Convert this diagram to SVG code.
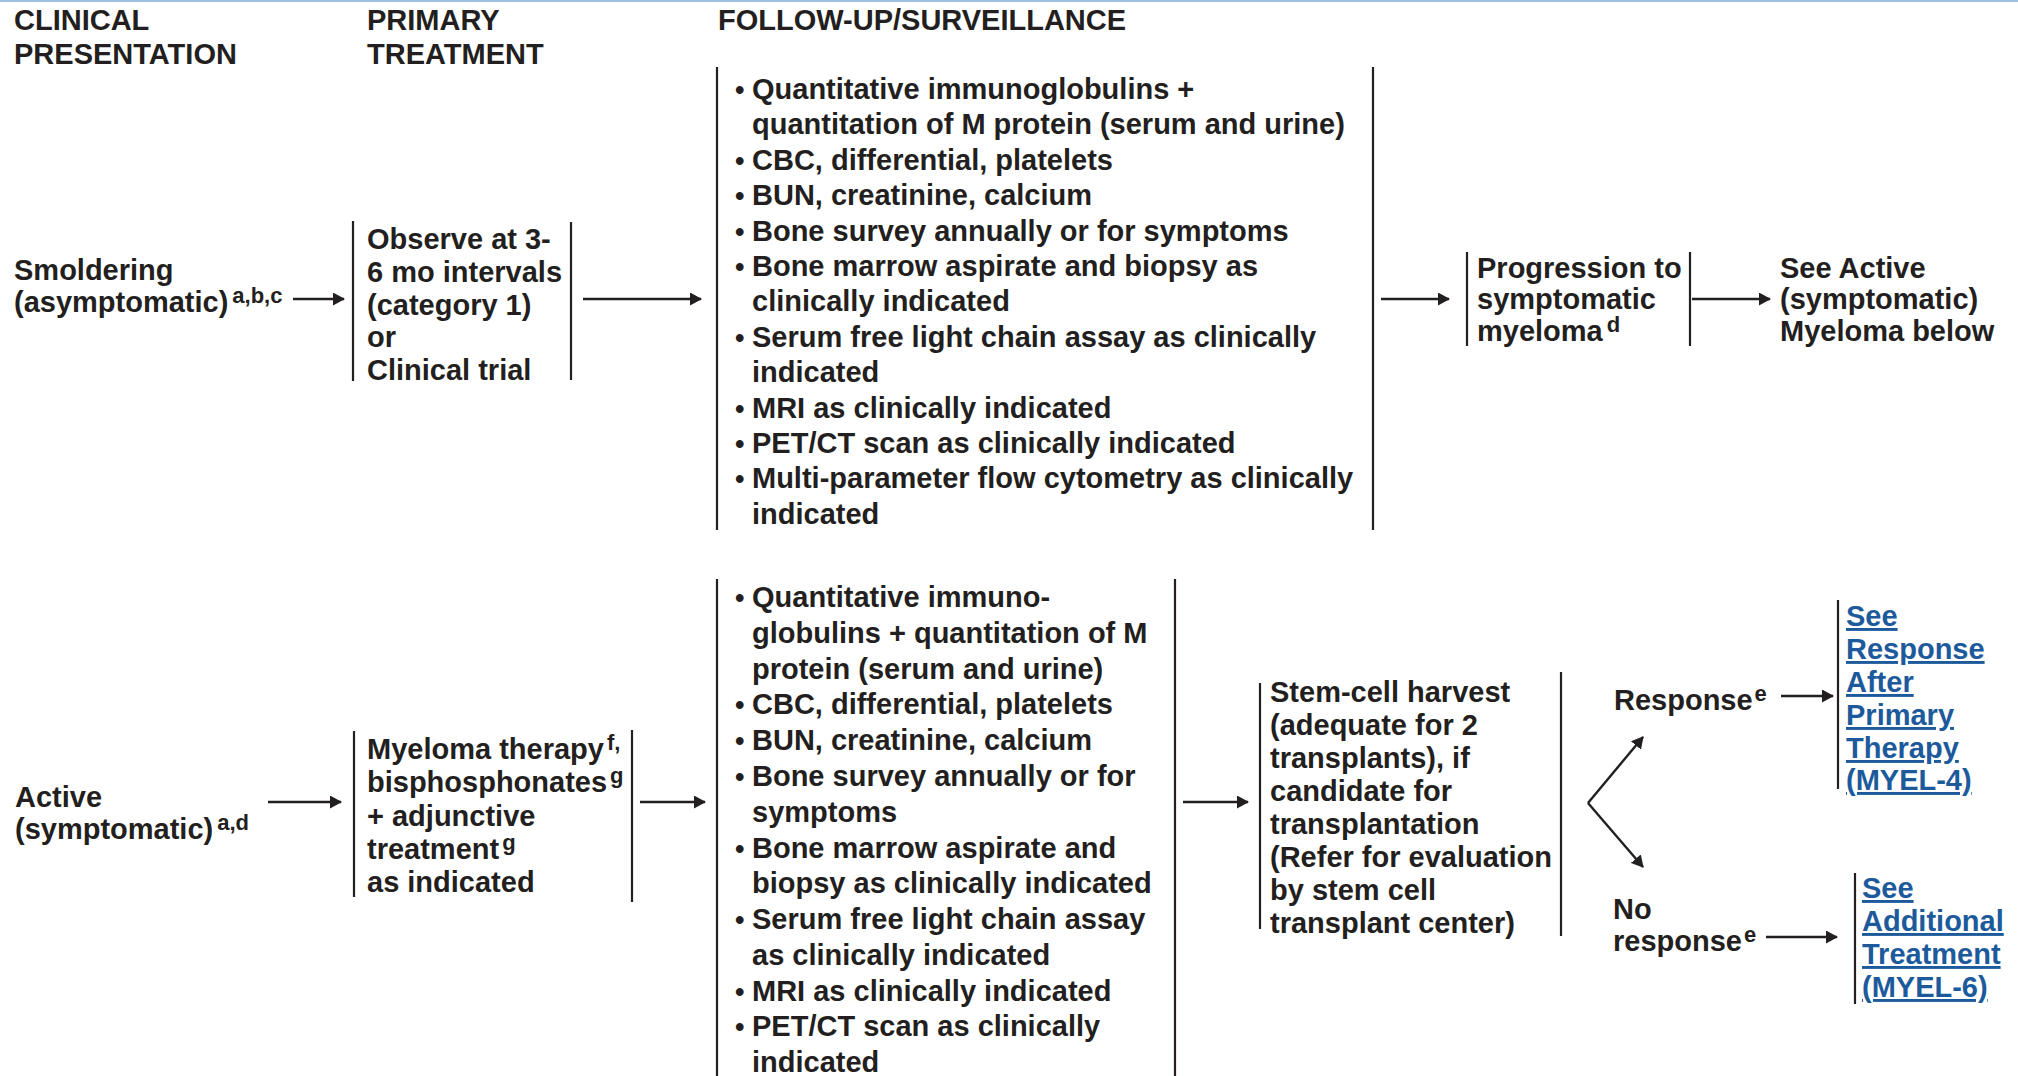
<svg xmlns="http://www.w3.org/2000/svg" width="2018" height="1076" viewBox="0 0 2018 1076">
<defs>
<style>
text{font-family:"Liberation Sans",Arial,Helvetica,sans-serif;font-weight:bold;font-size:29px;fill:#231f20}
.sup{font-size:22px}
.bul{font-size:27px}
.link{fill:#1c5a9c;text-decoration:underline}
.bar{stroke:#231f20;stroke-width:2.2;fill:none}
.arr{stroke:#231f20;stroke-width:2.4;fill:none;marker-end:url(#ah)}
</style>
<marker id="ah" viewBox="0 0 12 13" refX="11" refY="6.5" markerWidth="12" markerHeight="13" orient="auto" markerUnits="userSpaceOnUse">
<path d="M0,0 L12,6.5 L0,13 z" fill="#231f20"/>
</marker>
</defs>
<rect x="0" y="0" width="2018" height="1076" fill="#ffffff"/>
<line x1="0" y1="1" x2="2018" y2="1" stroke="#9dc3e0" stroke-width="2"/>

<g id="headers">
<text x="14" y="30">CLINICAL</text>
<text x="14" y="64">PRESENTATION</text>
<text x="367" y="30">PRIMARY</text>
<text x="367" y="64">TREATMENT</text>
<text x="718" y="30">FOLLOW-UP/SURVEILLANCE</text>
</g>

<g id="smoldering">
<text x="14" y="280">Smoldering</text>
<text x="14" y="312">(asymptomatic)<tspan class="sup" dx="4" dy="-9">a,b,c</tspan></text>
</g>

<g id="observe">
<line class="bar" x1="353" y1="221" x2="353" y2="381"/>
<line class="bar" x1="571" y1="222" x2="571" y2="380"/>
<text x="367" y="249">Observe at 3-</text>
<text x="367" y="282">6 mo intervals</text>
<text x="367" y="315">(category 1)</text>
<text x="367" y="347">or</text>
<text x="367" y="380">Clinical trial</text>
</g>

<g id="followup1">
<line class="bar" x1="717" y1="67" x2="717" y2="530"/>
<line class="bar" x1="1373" y1="67" x2="1373" y2="530"/>
<text class="bul" x="735" y="99">•</text><text x="752" y="99">Quantitative immunoglobulins +</text>
<text x="752" y="134">quantitation of M protein (serum and urine)</text>
<text class="bul" x="735" y="170">•</text><text x="752" y="170">CBC, differential, platelets</text>
<text class="bul" x="735" y="205">•</text><text x="752" y="205">BUN, creatinine, calcium</text>
<text class="bul" x="735" y="241">•</text><text x="752" y="241">Bone survey annually or for symptoms</text>
<text class="bul" x="735" y="276">•</text><text x="752" y="276">Bone marrow aspirate and biopsy as</text>
<text x="752" y="311">clinically indicated</text>
<text class="bul" x="735" y="347">•</text><text x="752" y="347">Serum free light chain assay as clinically</text>
<text x="752" y="382">indicated</text>
<text class="bul" x="735" y="418">•</text><text x="752" y="418">MRI as clinically indicated</text>
<text class="bul" x="735" y="453">•</text><text x="752" y="453">PET/CT scan as clinically indicated</text>
<text class="bul" x="735" y="488">•</text><text x="752" y="488">Multi-parameter flow cytometry as clinically</text>
<text x="752" y="524">indicated</text>
</g>

<g id="progression">
<line class="bar" x1="1467" y1="252" x2="1467" y2="346"/>
<line class="bar" x1="1690" y1="252" x2="1690" y2="346"/>
<text x="1477" y="278">Progression to</text>
<text x="1477" y="309">symptomatic</text>
<text x="1477" y="341">myeloma<tspan class="sup" dx="4" dy="-9">d</tspan></text>
</g>

<g id="seeactive">
<text x="1780" y="278">See Active</text>
<text x="1780" y="309">(symptomatic)</text>
<text x="1780" y="341">Myeloma below</text>
</g>

<g id="active">
<text x="15" y="807">Active</text>
<text x="15" y="839">(symptomatic)<tspan class="sup" dx="4" dy="-9">a,d</tspan></text>
</g>

<g id="therapy">
<line class="bar" x1="354" y1="731" x2="354" y2="897"/>
<line class="bar" x1="632" y1="730" x2="632" y2="902"/>
<text x="367" y="759">Myeloma therapy<tspan class="sup" dx="3" dy="-9">f,</tspan></text>
<text x="367" y="792">bisphosphonates<tspan class="sup" dx="3" dy="-9">g</tspan></text>
<text x="367" y="826">+ adjunctive</text>
<text x="367" y="859">treatment<tspan class="sup" dx="3" dy="-9">g</tspan></text>
<text x="367" y="892">as indicated</text>
</g>

<g id="followup2">
<line class="bar" x1="717" y1="579" x2="717" y2="1076"/>
<line class="bar" x1="1175" y1="579" x2="1175" y2="1076"/>
<text class="bul" x="735" y="607">•</text><text x="752" y="607">Quantitative immuno-</text>
<text x="752" y="643">globulins + quantitation of M</text>
<text x="752" y="679">protein (serum and urine)</text>
<text class="bul" x="735" y="714">•</text><text x="752" y="714">CBC, differential, platelets</text>
<text class="bul" x="735" y="750">•</text><text x="752" y="750">BUN, creatinine, calcium</text>
<text class="bul" x="735" y="786">•</text><text x="752" y="786">Bone survey annually or for</text>
<text x="752" y="822">symptoms</text>
<text class="bul" x="735" y="858">•</text><text x="752" y="858">Bone marrow aspirate and</text>
<text x="752" y="893">biopsy as clinically indicated</text>
<text class="bul" x="735" y="929">•</text><text x="752" y="929">Serum free light chain assay</text>
<text x="752" y="965">as clinically indicated</text>
<text class="bul" x="735" y="1001">•</text><text x="752" y="1001">MRI as clinically indicated</text>
<text class="bul" x="735" y="1036">•</text><text x="752" y="1036">PET/CT scan as clinically</text>
<text x="752" y="1072">indicated</text>
</g>

<g id="stemcell">
<line class="bar" x1="1260" y1="683" x2="1260" y2="929"/>
<line class="bar" x1="1561" y1="672" x2="1561" y2="936"/>
<text x="1270" y="702">Stem-cell harvest</text>
<text x="1270" y="735">(adequate for 2</text>
<text x="1270" y="768">transplants), if</text>
<text x="1270" y="801">candidate for</text>
<text x="1270" y="834">transplantation</text>
<text x="1270" y="867">(Refer for evaluation</text>
<text x="1270" y="900">by stem cell</text>
<text x="1270" y="933">transplant center)</text>
</g>

<g id="response">
<text x="1614" y="710">Response<tspan class="sup" dx="2" dy="-9">e</tspan></text>
</g>

<g id="noresponse">
<text x="1613" y="919">No</text>
<text x="1613" y="951">response<tspan class="sup" dx="2" dy="-9">e</tspan></text>
</g>

<g id="link4">
<line class="bar" x1="1838" y1="600" x2="1838" y2="789"/>
<text class="link" x="1846" y="626">See</text>
<text class="link" x="1846" y="659">Response</text>
<text class="link" x="1846" y="692">After</text>
<text class="link" x="1846" y="725">Primary</text>
<text class="link" x="1846" y="758">Therapy</text>
<text class="link" x="1846" y="790">(MYEL-4)</text>
</g>

<g id="link6">
<line class="bar" x1="1855" y1="873" x2="1855" y2="1004"/>
<text class="link" x="1862" y="898">See</text>
<text class="link" x="1862" y="931">Additional</text>
<text class="link" x="1862" y="964">Treatment</text>
<text class="link" x="1862" y="997">(MYEL-6)</text>
</g>

<g id="connectors">
<line class="arr" x1="293" y1="299" x2="344" y2="299"/>
<line class="arr" x1="583" y1="299" x2="701" y2="299"/>
<line class="arr" x1="1381" y1="299" x2="1449" y2="299"/>
<line class="arr" x1="1692" y1="299" x2="1770" y2="299"/>
<line class="arr" x1="268" y1="802" x2="341" y2="802"/>
<line class="arr" x1="640" y1="802" x2="705" y2="802"/>
<line class="arr" x1="1183" y1="802" x2="1248" y2="802"/>
<line class="arr" x1="1588" y1="803" x2="1643" y2="737"/>
<line class="arr" x1="1588" y1="803" x2="1643" y2="867"/>
<line class="arr" x1="1781" y1="696" x2="1833" y2="696"/>
<line class="arr" x1="1766" y1="937" x2="1837" y2="937"/>
</g>
</svg>
